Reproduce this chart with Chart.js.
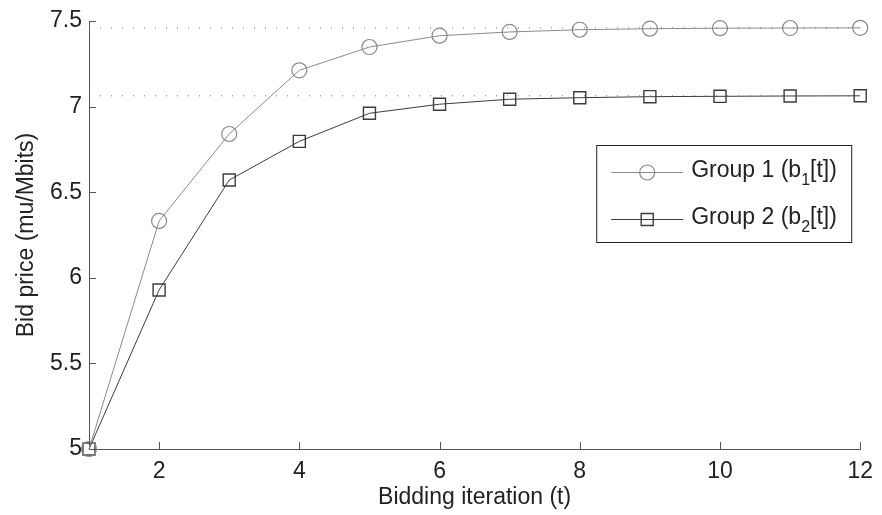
<!DOCTYPE html>
<html>
<head>
<meta charset="utf-8">
<script src="https://cdn.jsdelivr.net/npm/chart.js@4/dist/chart.umd.min.js"></script>
<style>
  html, body { margin: 0; padding: 0; background: #fff; }
  canvas { display: block; }
</style>
</head>
<body>
<canvas id="bidChart" width="882" height="515"></canvas>
<script>
// bid price per bidding iteration for both groups
const iterations = [1, 2, 3, 4, 5, 6, 7, 8, 9, 10, 11, 12];
const group1Bids = [5, 6.332, 6.840, 7.212, 7.348, 7.414, 7.436, 7.449, 7.455, 7.458, 7.459, 7.46];
const group2Bids = [5, 5.929, 6.571, 6.797, 6.961, 7.014, 7.043, 7.052, 7.058, 7.060, 7.062, 7.063];
// converged prices, shown as dotted guides
const convergedPrices = [7.46, 7.063];
const xTickValues = [2, 4, 6, 8, 10, 12];
const yTickValues = [5, 5.5, 6, 6.5, 7, 7.5];
// "_" marks the subscript character
const seriesLabels = ['Group 1 (b_1[t])', 'Group 2 (b_2[t])'];

const FONT = '"Liberation Sans", Arial, Helvetica, sans-serif';
const TEXT = '#222';
const AXIS = '#555';
const LIGHT = '#8a8a8a';
const DARK = '#3c3c3c';

Chart.defaults.font.family = FONT;
Chart.defaults.font.size = 23;
Chart.defaults.color = TEXT;

const toPoints = vals => iterations.map((t, i) => ({ x: t, y: vals[i] }));

const guides = convergedPrices.map(p => ({
  data: [{ x: iterations[0], y: p }, { x: iterations[iterations.length - 1], y: p }],
  borderColor: '#777',
  borderWidth: 1,
  borderDash: [1, 10],
  pointRadius: 0
}));

const series = [
  {
    label: seriesLabels[0],
    data: toPoints(group1Bids),
    borderColor: LIGHT,
    borderWidth: 1,
    pointStyle: 'circle',
    pointRadius: 7.5,
    pointBorderColor: LIGHT,
    pointBorderWidth: 1.2,
    pointBackgroundColor: 'rgba(0,0,0,0)',
    clip: false
  },
  {
    label: seriesLabels[1],
    data: toPoints(group2Bids),
    borderColor: DARK,
    borderWidth: 1,
    pointStyle: 'rect',
    pointRadius: 8.5,
    pointBorderColor: DARK,
    pointBorderWidth: 1.4,
    pointBackgroundColor: 'rgba(0,0,0,0)',
    clip: false
  }
];

// ticks point into the plot, MATLAB style
const inwardTicks = {
  id: 'inwardTicks',
  beforeDatasetsDraw(chart) {
    const { ctx, chartArea: a, scales: { x, y } } = chart;
    ctx.save();
    ctx.strokeStyle = AXIS;
    ctx.lineWidth = 1;
    ctx.beginPath();
    xTickValues.forEach(v => {
      const px = Math.round(x.getPixelForValue(v)) + 0.5;
      ctx.moveTo(px, a.bottom);
      ctx.lineTo(px, a.bottom - 7);
    });
    yTickValues.forEach(v => {
      const py = Math.round(y.getPixelForValue(v)) + 0.5;
      ctx.moveTo(a.left, py);
      ctx.lineTo(a.left + 7, py);
    });
    ctx.stroke();
    ctx.restore();
  }
};

function drawLabel(ctx, text, x, y) {
  const [head, rest] = text.split('_');
  ctx.font = '23px ' + FONT;
  ctx.fillText(head, x, y);
  x += ctx.measureText(head).width;
  ctx.font = '16px ' + FONT;
  ctx.fillText(rest[0], x, y + 8);
  x += ctx.measureText(rest[0]).width;
  ctx.font = '23px ' + FONT;
  ctx.fillText(rest.slice(1), x, y);
}

// boxed legend with subscripted labels
const boxLegend = {
  id: 'boxLegend',
  afterDraw(chart) {
    const { ctx, chartArea: a } = chart;
    const w = 255, h = 97;
    const left = a.right - 9 - w, top = a.top + 124;
    ctx.save();
    ctx.fillStyle = '#fff';
    ctx.fillRect(left, top, w, h);
    ctx.strokeStyle = '#222';
    ctx.lineWidth = 1;
    ctx.strokeRect(left + 0.5, top + 0.5, w, h);
    series.forEach((ds, i) => {
      const rowY = top + 27 + i * 47;
      const x0 = left + 15, x1 = left + 87, cx = (x0 + x1) / 2;
      ctx.strokeStyle = ds.borderColor;
      ctx.lineWidth = 1;
      ctx.beginPath();
      ctx.moveTo(x0, rowY + 0.5);
      ctx.lineTo(x1, rowY + 0.5);
      ctx.stroke();
      ctx.strokeStyle = ds.pointBorderColor;
      ctx.fillStyle = 'rgba(0,0,0,0)';
      ctx.lineWidth = ds.pointBorderWidth;
      Chart.helpers.drawPoint(ctx, {
        pointStyle: ds.pointStyle,
        radius: ds.pointRadius,
        rotation: 0,
        borderWidth: ds.pointBorderWidth
      }, cx, rowY + 0.5);
      ctx.fillStyle = TEXT;
      ctx.textBaseline = 'alphabetic';
      ctx.textAlign = 'left';
      drawLabel(ctx, ds.label, left + 95, rowY + 5);
    });
    ctx.restore();
  }
};

new Chart(document.getElementById('bidChart'), {
  type: 'line',
  data: { datasets: [...guides, ...series] },
  options: {
    responsive: false,
    animation: false,
    devicePixelRatio: 1,
    layout: { padding: { top: 21, right: 20, left: 0, bottom: 0 } },
    plugins: { legend: { display: false }, tooltip: { enabled: false } },
    elements: { line: { tension: 0 } },
    scales: {
      x: {
        type: 'linear',
        min: 1,
        max: 12,
        afterBuildTicks: s => { s.ticks = xTickValues.map(v => ({ value: v })); },
        afterFit: s => { s.height = 66; },
        grid: { display: false, drawTicks: false },
        border: { display: true, color: AXIS, width: 1 },
        ticks: { padding: 9, color: TEXT, maxRotation: 0, autoSkip: false },
        title: {
          display: true,
          text: 'Bidding iteration (t)',
          color: TEXT,
          padding: { top: 0, bottom: 4 }
        }
      },
      y: {
        type: 'linear',
        min: 5,
        max: 7.5,
        afterBuildTicks: s => { s.ticks = yTickValues.map(v => ({ value: v })); },
        afterFit: s => { s.width = 89; },
        grid: { display: false, drawTicks: false },
        border: { display: true, color: AXIS, width: 1 },
        ticks: { padding: 7, color: TEXT, callback: v => String(v) },
        title: {
          display: true,
          text: 'Bid price (mu/Mbits)',
          color: TEXT,
          padding: { top: 13, bottom: 0 }
        }
      }
    }
  },
  plugins: [inwardTicks, boxLegend]
});
</script>
</body>
</html>
